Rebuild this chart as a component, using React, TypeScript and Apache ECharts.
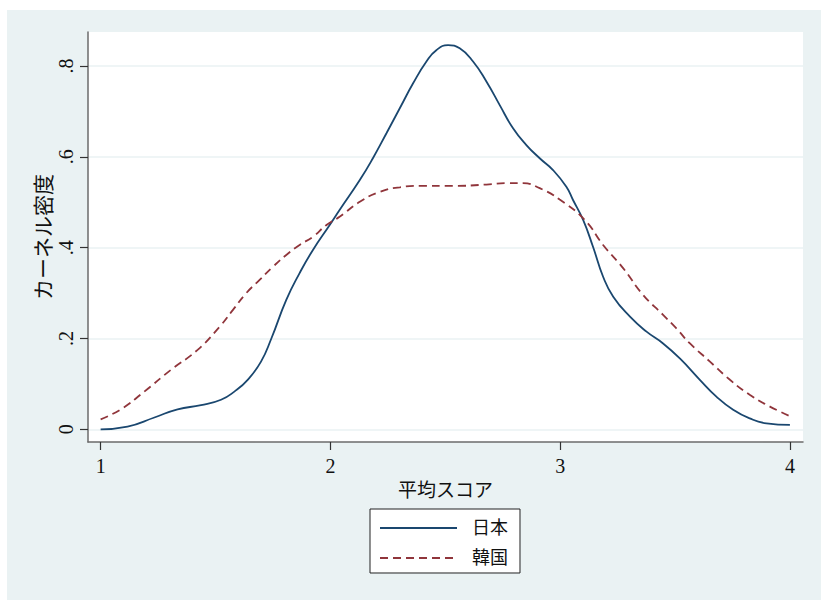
import React, { useEffect, useRef } from "react";
import * as echarts from "echarts";

// Kernel density estimates of the average score, by country
const jpX = [1.0, 1.117, 1.234, 1.335, 1.437, 1.524, 1.582, 1.64, 1.698, 1.743, 1.808, 1.866, 1.924, 1.997, 2.04, 2.128, 2.185, 2.244, 2.302, 2.36, 2.418, 2.461, 2.512, 2.563, 2.621, 2.679, 2.737, 2.795, 2.853, 2.911, 2.969, 3.027, 3.056, 3.1, 3.143, 3.187, 3.231, 3.304, 3.376, 3.448, 3.521, 3.608, 3.68, 3.753, 3.825, 3.898, 4.0];
const jpY = [0.0, 0.006, 0.026, 0.044, 0.053, 0.065, 0.083, 0.109, 0.149, 0.2, 0.285, 0.344, 0.395, 0.45, 0.483, 0.549, 0.597, 0.652, 0.707, 0.762, 0.81, 0.835, 0.846, 0.839, 0.81, 0.766, 0.714, 0.663, 0.626, 0.597, 0.571, 0.534, 0.505, 0.461, 0.402, 0.336, 0.292, 0.248, 0.215, 0.189, 0.156, 0.109, 0.072, 0.043, 0.024, 0.013, 0.0095];

const krX = [1.0, 1.088, 1.19, 1.306, 1.422, 1.518, 1.576, 1.634, 1.692, 1.75, 1.808, 1.866, 1.924, 1.983, 2.04, 2.128, 2.215, 2.302, 2.389, 2.534, 2.679, 2.766, 2.838, 2.911, 2.998, 3.107, 3.187, 3.274, 3.361, 3.448, 3.506, 3.565, 3.652, 3.739, 3.825, 3.913, 4.0];
const krY = [0.022, 0.044, 0.083, 0.131, 0.175, 0.226, 0.263, 0.3, 0.329, 0.358, 0.384, 0.406, 0.424, 0.45, 0.468, 0.501, 0.523, 0.533, 0.536, 0.536, 0.539, 0.542, 0.542, 0.531, 0.506, 0.461, 0.406, 0.355, 0.296, 0.252, 0.222, 0.189, 0.149, 0.109, 0.076, 0.05, 0.029];

const xTicks = [1, 2, 3, 4];
const yTicks = [0, 0.2, 0.4, 0.6, 0.8];
const seriesNames = ["日本", "韓国"];

const SERIF = "'Liberation Serif', 'Noto Sans CJK JP', serif";
const NAVY = "#1a476f";
const MAROON = "#90353b";

const fmtY = (v: number) => (v === 0 ? "0" : String(v).replace(/^0/, ""));

export default function App() {
  const ref = useRef<HTMLDivElement>(null);

  useEffect(() => {
    if (!ref.current) return;
    const chart = echarts.init(ref.current, undefined, { renderer: "svg" });
    const pairs = (xs: number[], ys: number[]) => xs.map((x, i) => [x, ys[i]]);

    chart.setOption({
      animation: false,
      backgroundColor: "#eaf2f3",
      textStyle: { fontFamily: SERIF },
      grid: {
        left: 81,
        top: 22,
        right: 18,
        bottom: 158,
        show: true,
        backgroundColor: "#ffffff",
        borderWidth: 0,
      },
      xAxis: {
        type: "value",
        min: 0.945,
        max: 4.057,
        name: "平均スコア",
        nameLocation: "middle",
        nameGap: 38,
        nameTextStyle: { fontSize: 19, color: "#111", fontFamily: SERIF },
        axisLine: { show: true, onZero: false, lineStyle: { color: "#6b6b6b", width: 1.5 } },
        axisTick: {
          show: true,
          length: 8,
          customValues: xTicks,
          lineStyle: { color: "#333", width: 1.2 },
        },
        axisLabel: {
          customValues: xTicks,
          margin: 14,
          fontSize: 20,
          color: "#111",
          fontFamily: SERIF,
          formatter: (v: number) => String(v),
        },
        splitLine: { show: false },
      },
      yAxis: {
        type: "value",
        min: -0.028,
        max: 0.875,
        name: "カーネル密度",
        nameLocation: "middle",
        nameRotate: 90,
        nameGap: 34,
        nameMoveOverlap: false,
        nameTextStyle: { fontSize: 21, color: "#111", fontFamily: SERIF },
        axisLine: { show: true, onZero: false, lineStyle: { color: "#6b6b6b", width: 1.5 } },
        axisTick: {
          show: true,
          length: 8,
          customValues: yTicks,
          lineStyle: { color: "#333", width: 1.2 },
        },
        axisLabel: {
          customValues: yTicks,
          rotate: 90,
          margin: 12,
          fontSize: 20,
          color: "#111",
          fontFamily: SERIF,
          formatter: (v: number) => fmtY(v),
        },
        splitLine: { show: true, lineStyle: { color: "#eaf2f3", width: 1.5 } },
      },
      legend: {
        orient: "vertical",
        left: 363,
        top: 499,
        data: seriesNames,
        backgroundColor: "#ffffff",
        borderColor: "#222",
        borderWidth: 1,
        borderRadius: 0,
        padding: [10, 12, 6, 9],
        itemWidth: 77,
        itemHeight: 20,
        itemGap: 12,
        itemStyle: { opacity: 0 },
        textStyle: {
          fontSize: 18,
          color: "#111",
          fontFamily: SERIF,
          padding: [0, 0, 0, 10],
        },
      },
      series: [
        {
          name: seriesNames[0],
          type: "line",
          data: pairs(jpX, jpY),
          smooth: 0.5,
          symbol: "none",
          lineStyle: { color: NAVY, width: 1.8 },
          itemStyle: { color: NAVY },
        },
        {
          name: seriesNames[1],
          type: "line",
          data: pairs(krX, krY),
          smooth: 0.5,
          symbol: "none",
          lineStyle: { color: MAROON, width: 1.8, type: [8, 5] },
          itemStyle: { color: MAROON },
        },
      ],
    });

    return () => chart.dispose();
  }, []);

  return (
    <div style={{ position: "fixed", left: 0, top: 0, width: 821, height: 600, background: "#ffffff" }}>
      <div ref={ref} style={{ position: "absolute", left: 7, top: 10, width: 814, height: 590 }} />
    </div>
  );
}
